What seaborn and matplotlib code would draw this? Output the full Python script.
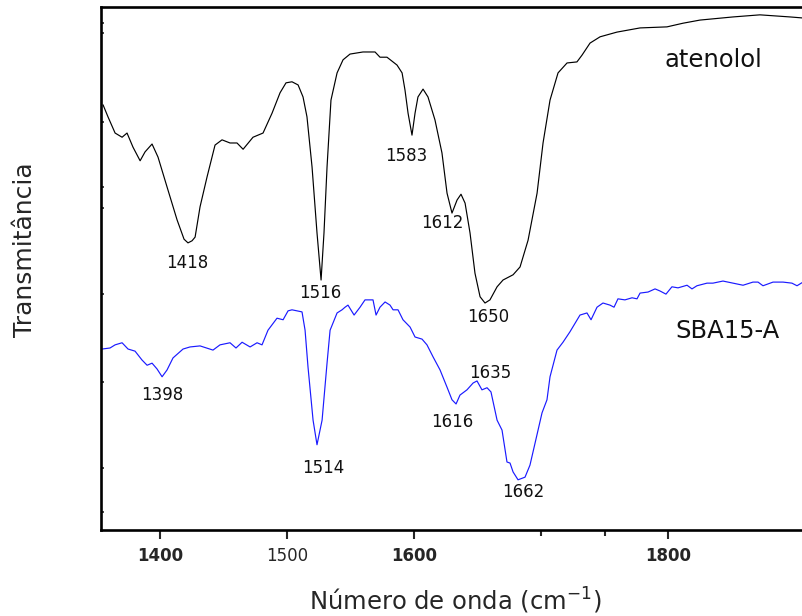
import matplotlib
matplotlib.use("Agg")
import matplotlib.pyplot as plt
import numpy as np
import pandas as pd
import seaborn as sns

# FTIR spectra: wavenumber (cm-1) and transmittance (arbitrary units)
aten_wn = [1355.1, 1359.0, 1364.6, 1370.1, 1374.0, 1378.7, 1384.3, 1388.2, 1393.7, 1398.4, 1405.5,
           1413.4, 1418.9, 1422.0, 1425.2, 1427.6, 1431.5, 1437.0, 1443.3, 1448.8, 1455.1, 1460.6, 1465.4,
           1473.2, 1481.1, 1488.2, 1494.5, 1499.2, 1503.9, 1508.7, 1512.6, 1515.7, 1519.7, 1523.6,
           1526.8, 1529.1, 1531.5, 1534.6, 1539.4, 1544.1, 1549.6, 1559.8, 1569.3, 1573.2,
           1578.7, 1586.6, 1590.6, 1592.9, 1595.3, 1598.4, 1600.8, 1603.1, 1607.1, 1611.0,
           1616.5, 1622.0, 1626.0, 1629.9, 1633.9, 1637.0, 1640.2, 1644.1, 1648.0, 1652.0,
           1655.9, 1659.8, 1665.4, 1670.1, 1678.0, 1683.5, 1689.8, 1696.9, 1701.6, 1707.1,
           1713.4, 1720.5, 1728.3, 1732.3, 1738.6, 1746.5, 1759.8, 1778.0, 1799.2, 1811.8,
           1825.2, 1851.2, 1872.4, 1896.1, 1906.3]
aten_t = [81.3, 79.0, 75.9, 75.1, 75.9, 73.2, 70.6, 72.3, 73.8, 71.3, 65.6,
          59.3, 55.6, 54.9, 55.3, 56.0, 61.8, 67.5, 73.6, 74.6, 74.0, 74.0, 72.8,
          75.1, 75.9, 79.7, 83.6, 85.5, 85.7, 85.1, 82.8, 79.0, 69.4, 56.8,
          47.8, 56.8, 69.4, 82.2, 87.4, 89.9, 91.0, 91.4, 91.4, 90.4,
          90.4, 88.9, 87.4, 84.1, 79.7, 75.5, 79.7, 82.8, 84.3, 82.8,
          78.4, 72.1, 64.4, 60.6, 63.1, 64.2, 62.5, 56.8, 49.1, 44.6,
          43.4, 44.0, 46.5, 47.8, 48.8, 50.3, 55.4, 64.4, 74.0, 82.2,
          87.4, 89.3, 89.5, 90.8, 93.1, 94.3, 95.2, 96.0, 96.2, 96.9,
          97.5, 98.1, 98.5, 98.1, 97.9]

sba_wn = [1354.3, 1360.6, 1364.6, 1370.1, 1374.8, 1380.3, 1385.8, 1389.8, 1393.7, 1397.6,
          1401.6, 1405.5, 1410.2, 1418.1, 1423.6, 1431.5, 1441.7, 1447.2, 1455.1, 1459.8,
          1464.6, 1470.9, 1476.4, 1480.3, 1485.0, 1492.1, 1496.9, 1500.8, 1503.9, 1507.9,
          1511.8, 1514.2, 1516.5, 1520.5, 1523.6, 1527.6, 1531.5, 1533.9, 1539.4, 1543.3,
          1545.7, 1548.0, 1552.8, 1557.5, 1561.4, 1567.7, 1570.1, 1573.2, 1577.2, 1581.1,
          1583.5, 1587.4, 1591.3, 1596.9, 1600.8, 1606.3, 1610.2, 1615.0, 1620.5, 1626.0,
          1629.9, 1633.1, 1636.2, 1641.7, 1646.5, 1649.6, 1653.5, 1657.5, 1660.6, 1665.4,
          1669.3, 1673.2, 1675.6, 1678.0, 1681.9, 1687.4, 1691.3, 1695.3, 1700.8, 1704.7,
          1707.1, 1712.6, 1717.3, 1722.8, 1730.7, 1736.2, 1739.4, 1744.1, 1748.8, 1754.3,
          1757.5, 1760.6, 1766.1, 1771.7, 1775.6, 1778.0, 1784.3, 1789.8, 1793.7, 1798.4,
          1803.1, 1807.9, 1815.0, 1818.9, 1822.8, 1830.7, 1835.4, 1843.3, 1851.2, 1859.1,
          1866.9, 1870.9, 1874.8, 1882.7, 1890.6, 1897.6, 1901.6, 1906.3]
sba_t = [34.6, 34.8, 35.4, 35.8, 34.6, 34.2, 32.5, 31.5, 31.9, 30.8,
         29.3, 30.6, 32.9, 34.6, 35.0, 35.2, 34.4, 35.4, 35.8, 34.8,
         35.9, 35.0, 35.8, 35.4, 38.2, 40.5, 40.2, 41.9, 42.1, 41.9,
         41.7, 38.2, 31.2, 21.0, 16.3, 21.0, 31.9, 38.2, 41.5, 42.1,
         42.6, 43.0, 41.1, 42.6, 44.0, 44.0, 41.1, 42.6, 43.6, 43.0,
         42.1, 42.1, 40.2, 38.8, 36.9, 36.5, 35.4, 33.1, 30.6, 27.3,
         24.9, 24.1, 25.8, 26.8, 28.1, 28.5, 26.8, 27.2, 26.4, 21.0,
         19.1, 13.0, 12.8, 11.1, 9.6, 10.1, 12.4, 16.6, 22.4, 24.9,
         29.3, 34.4, 35.9, 37.9, 41.1, 41.5, 40.2, 42.6, 43.4, 43.0,
         42.6, 44.2, 44.0, 44.4, 44.2, 45.3, 45.5, 46.1, 45.7, 45.1,
         46.5, 46.3, 46.8, 46.1, 46.7, 47.2, 47.2, 47.6, 47.2, 46.8,
         47.4, 47.4, 46.7, 47.4, 47.4, 47.2, 46.7, 47.4]

# band labels: text and where it sits (wavenumber, transmittance)
aten_bands = ["1418", "1516", "1583", "1612", "1650"]
aten_band_pos = [(1421.3, 51.1), (1526.0, 45.3), (1593.7, 71.5), (1622.0, 58.7), (1658.3, 40.7)]
sba_bands = ["1398", "1514", "1616", "1635", "1662"]
sba_band_pos = [(1401.6, 25.8), (1528.3, 11.9), (1629.9, 20.7), (1659.8, 30.0), (1685.8, 7.3)]

xticks_major = [1400, 1500, 1600, 1800]
xticks_minor = [1700, 1750]
yticks = [96.9, 95.0, 78.0, 65.6, 61.6, 45.1, 28.3, 11.9, 3.4]

sns.set_style("ticks")
plt.rcParams["font.family"] = ["DejaVu Sans"]

fig = plt.figure(figsize=(8.03, 6.16), dpi=100)
ax = fig.add_axes([101 / 803, 86 / 616, 719 / 803, 523 / 616])

df_a = pd.DataFrame({"wn": aten_wn, "t": aten_t})
df_s = pd.DataFrame({"wn": sba_wn, "t": sba_t})
sns.lineplot(data=df_a, x="wn", y="t", ax=ax, color="black", lw=0.85,
             sort=False, estimator=None)
sns.lineplot(data=df_s, x="wn", y="t", ax=ax, color="#1a1aff", lw=0.85,
             sort=False, estimator=None)

ax.set_xlim(1353.5, 1919.7)
ax.set_ylim(0, 100)

for txt, (x, y) in zip(aten_bands + sba_bands, aten_band_pos + sba_band_pos):
    ax.text(x, y, txt, ha="center", va="center", fontsize=12, color="#111111")

ax.text(1835.4, 89.9, "atenolol", ha="center", va="center", fontsize=17.5, color="#111111")
ax.text(1846.5, 38.0, "SBA15-A", ha="center", va="center", fontsize=17.5, color="#111111")

ax.set_xticks(xticks_major)
ax.set_xticks(xticks_minor, minor=True)
ax.set_xticklabels([str(v) for v in xticks_major], fontsize=12)
for lab in ax.get_xticklabels():
    lab.set_fontweight("normal" if lab.get_text() == "1500" else "bold")
ax.tick_params(axis="x", which="major", direction="out", length=6.5, width=1.5, pad=6)
ax.tick_params(axis="x", which="minor", direction="out", length=4.3, width=1.5)

ax.set_yticks(yticks)
ax.set_yticklabels([])
ax.tick_params(axis="y", which="major", direction="in", length=2.5, width=1.2, left=True)

for side in ["left", "bottom", "top", "right"]:
    ax.spines[side].set_visible(True)
    ax.spines[side].set_linewidth(1.9)
    ax.spines[side].set_color("black")

ax.set_xlabel("Número de onda (cm$^{-1}$)", fontsize=17.5)
ax.set_ylabel("Transmitância", fontsize=18)
ax.xaxis.set_label_coords((455 - 101) / 719, (530 - 601) / 523)
ax.xaxis.label.set_va("center")
ax.yaxis.set_label_coords((25 - 101) / 719, (530 - 250) / 523)
ax.yaxis.label.set_va("center")

fig.savefig("out.png", dpi=100)
